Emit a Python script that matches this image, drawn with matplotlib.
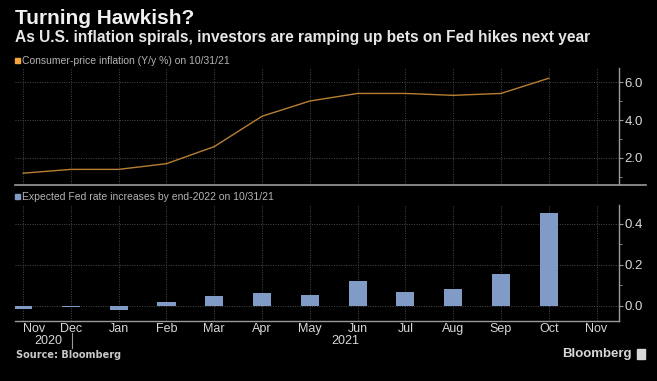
import matplotlib

matplotlib.use("Agg")
import matplotlib.pyplot as plt
from matplotlib.lines import Line2D
from matplotlib.patches import Rectangle
from matplotlib.ticker import MultipleLocator

# data
months = ["Nov", "Dec", "Jan", "Feb", "Mar", "Apr", "May", "Jun", "Jul", "Aug", "Sep", "Oct", "Nov"]
cpi_yoy = [1.2, 1.4, 1.4, 1.7, 2.6, 4.2, 5.0, 5.4, 5.4, 5.3, 5.4, 6.2]
fed_hikes = [-0.015, -0.005, -0.02, 0.018, 0.047, 0.063, 0.054, 0.12, 0.068, 0.083, 0.156, 0.449]
years = ["2020", "2021"]

BG = "black"
GRID = "#4a4a4a"
SPINE = "#9a9a9a"
TEXT = "#d8d8d8"
LEG_TEXT = "#b4b4b4"
LINE_COLOR = "#b87f34"
LEG_ORANGE = "#f5a53c"
BAR_COLOR = "#809cc6"
FONT = "Liberation Sans"

W, H = 657, 381
fig = plt.figure(figsize=(W / 100, H / 100), dpi=100, facecolor=BG)


def fx(px):
    return px / W


def fy(py):
    return 1 - py / H


def style_axis(ax, major, minor):
    ax.set_facecolor(BG)
    for side in ("top", "left", "bottom"):
        ax.spines[side].set_visible(False)
    ax.spines["right"].set_color(SPINE)
    ax.spines["right"].set_linewidth(1.0)
    ax.yaxis.tick_right()
    ax.yaxis.set_major_locator(MultipleLocator(major))
    ax.yaxis.set_minor_locator(MultipleLocator(minor))
    ax.tick_params(axis="y", which="major", colors=SPINE, length=3, width=0.8, pad=1,
                   labelcolor=TEXT, labelsize=9.5)
    ax.tick_params(axis="y", which="minor", colors=SPINE, length=2, width=0.6)
    ax.set_xlim(-0.17, 12.47)
    ax.set_xticks(range(len(months)))
    ax.grid(True, which="major", color=GRID, linestyle=(0, (1, 1.5)), linewidth=0.7)
    for lab in ax.get_yticklabels():
        lab.set_family(FONT)


x_pos = list(range(len(cpi_yoy)))

# top panel: CPI line
ax1 = fig.add_axes([fx(15), fy(184), fx(619) - fx(15), fy(68) - fy(184)])
style_axis(ax1, 2.0, 1.0)
ax1.plot(x_pos, cpi_yoy, color=LINE_COLOR, linewidth=1.0)
ax1.set_ylim(0.63, 6.74)
ax1.yaxis.set_major_formatter(lambda v, p: f"{v:.1f}" if v > 1.5 else "")
ax1.tick_params(axis="x", length=0, labelbottom=False)

# bottom panel: expected hikes bars
ax2 = fig.add_axes([fx(15), fy(321), fx(619) - fx(15), fy(205) - fy(321)])
style_axis(ax2, 0.2, 0.1)
ax2.bar(x_pos, fed_hikes, width=0.38, color=BAR_COLOR, zorder=3)
ax2.set_ylim(-0.073, 0.49)
ax2.yaxis.set_major_formatter(lambda v, p: f"{v:.1f}")
ax2.set_xticklabels(months, family=FONT, fontsize=9, color=TEXT)
ax2.tick_params(axis="x", colors=SPINE, length=0, pad=1.5, labelcolor=TEXT)
# first label sits to the right of its tick, as in the reference
ax2.get_xticklabels()[0].set_horizontalalignment("left")

# bottom spines drawn across the figure like the reference
fig.add_artist(Line2D([fx(15), fx(646)], [fy(184.5), fy(184.5)], color=SPINE, linewidth=1.2))
fig.add_artist(Line2D([fx(15), fx(619)], [fy(321), fy(321)], color=SPINE, linewidth=1.0))

# year labels and separator
ax2.text(0.53, -0.175, years[0], transform=ax2.get_xaxis_transform(), ha="center", va="center",
         family=FONT, fontsize=9, color=TEXT)
ax2.text(6.75, -0.175, years[1], transform=ax2.get_xaxis_transform(), ha="center", va="center",
         family=FONT, fontsize=9, color=TEXT)
ax2.add_artist(Line2D([1.02, 1.02], [-0.1, -0.23], transform=ax2.get_xaxis_transform(),
                      color=SPINE, linewidth=0.8, clip_on=False))

# titles
fig.text(fx(15), fy(18), "Turning Hawkish?", ha="left", va="center", fontsize=15,
         fontweight="bold", color="#f0f0f0", family=FONT)
fig.text(fx(15), fy(37.5), "As U.S. inflation spirals, investors are ramping up bets on Fed hikes next year",
         ha="left", va="center", fontsize=11.2, fontweight="bold", color="#e6e6e6", family=FONT)

# legends
fig.add_artist(Rectangle((fx(15), fy(63)), fx(5), fy(58) - fy(63), color=LEG_ORANGE))
fig.text(fx(22), fy(60.5), "Consumer-price inflation (Y/y %) on 10/31/21", ha="left", va="center",
         fontsize=7.5, color=LEG_TEXT, family=FONT)
fig.add_artist(Rectangle((fx(15), fy(199)), fx(5), fy(194) - fy(199), color=BAR_COLOR))
fig.text(fx(22), fy(196.5), "Expected Fed rate increases by end-2022 on 10/31/21", ha="left", va="center",
         fontsize=7.5, color=LEG_TEXT, family=FONT)

# footer
fig.text(fx(16), fy(355), "Source: Bloomberg", ha="left", va="center", fontsize=7,
         fontweight="bold", color="#c8c8c8", family="DejaVu Sans")
fig.text(fx(632), fy(354), "Bloomberg", ha="right", va="center", fontsize=9.5,
         fontweight="bold", color="#d8d8d8", family=FONT)
fig.add_artist(Rectangle((fx(637), fy(359)), fx(8), fy(349) - fy(359), color="#d8d8d8"))

fig.savefig("out.png", dpi=100, facecolor=BG)
